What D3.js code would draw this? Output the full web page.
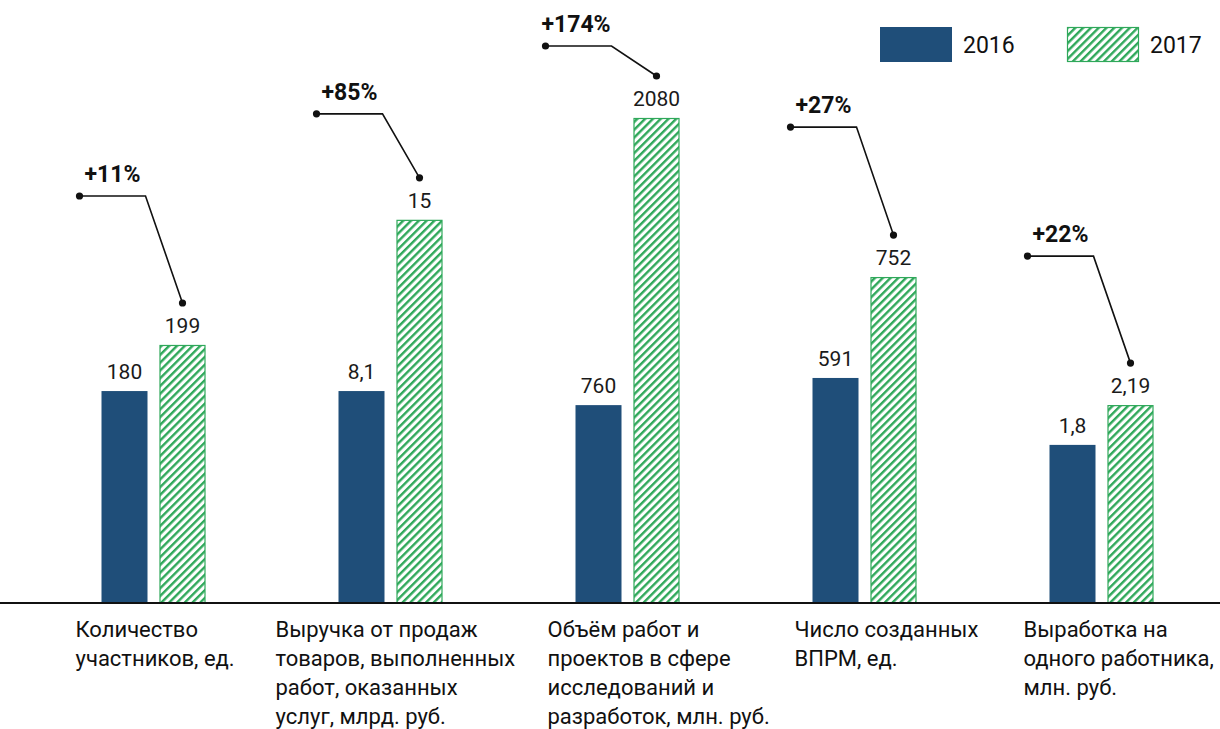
<!DOCTYPE html>
<html lang="ru">
<head>
<meta charset="UTF-8">
<title>Показатели 2016–2017</title>
<script src="https://cdn.jsdelivr.net/npm/d3@7/dist/d3.min.js"></script>
<style>
    body { margin: 0; background: #fff; }
    svg text { font-family: Roboto, "Noto Sans", sans-serif; }
</style>
</head>
<body>
<svg id="mainsvg" width="1220" height="729"></svg>
<script>
    // Data
    const categories = [
        ['Количество', 'участников, ед.'],
        ['Выручка от продаж', 'товаров, выполненных', 'работ, оказанных', 'услуг, млрд. руб.'],
        ['Объём работ и', 'проектов в сфере', 'исследований и', 'разработок, млн. руб.'],
        ['Число созданных', 'ВПРМ, ед.'],
        ['Выработка на', 'одного работника,', 'млн. руб.']
    ];
    const years = ['2016', '2017'];
    const labels2016 = ['180', '8,1', '760', '591', '1,8'];
    const labels2017 = ['199', '15', '2080', '752', '2,19'];
    const growth = ['+11%', '+85%', '+174%', '+27%', '+22%'];
    // bar heights as drawn in the original (index, tallest bar = 100)
    const level2016 = [43.7, 43.7, 40.8, 46.4, 32.6];
    const level2017 = [53.2, 79.0, 100, 67.2, 40.8];

    // Layout
    const svg = d3.select('#mainsvg');
    const width = +svg.attr('width');
    const baseY = 603;
    const navy = '#1f4e79';
    const green = '#2fa85a';
    const labelShift = [-78, -115, -80, -70, -78];   // category label offset from group centre
    const elbowRise = [107, 64, 30, 108, 107];        // annotation elbow above end dot

    const x = d3.scaleBand().domain(d3.range(5)).range([35, 1220]);
    const y = d3.scaleLinear().domain([0, 100]).range([baseY, 118]);
    const barW = 46;
    const centre = i => x(i) + x.bandwidth() / 2;
    const x16 = i => centre(i) - 52;
    const x17 = i => centre(i) + 6;

    // hatch pattern
    const defs = svg.append('defs');
    const pat = defs.append('pattern')
        .attr('id', 'hatch')
        .attr('patternUnits', 'userSpaceOnUse')
        .attr('width', 5.5).attr('height', 5.5)
        .attr('patternTransform', 'rotate(45)');
    pat.append('rect').attr('width', 5.5).attr('height', 5.5).attr('fill', '#fff');
    pat.append('rect').attr('x', 0).attr('width', 2.4).attr('height', 5.5).attr('fill', green);

    const g = svg.append('g');

    // bars 2016
    g.selectAll('rect.b16').data(level2016).join('rect')
        .attr('class', 'b16')
        .attr('x', (d, i) => x16(i))
        .attr('y', d => y(d))
        .attr('width', barW)
        .attr('height', d => baseY - y(d))
        .attr('fill', navy);

    // bars 2017
    g.selectAll('rect.b17').data(level2017).join('rect')
        .attr('class', 'b17')
        .attr('x', (d, i) => x17(i) + 0.5)
        .attr('y', d => y(d) + 0.5)
        .attr('width', barW - 1)
        .attr('height', d => baseY - y(d) - 0.5)
        .attr('fill', 'url(#hatch)')
        .attr('stroke', green)
        .attr('stroke-width', 1.2);

    // value labels
    g.selectAll('text.v16').data(labels2016).join('text')
        .attr('x', (d, i) => x16(i) + barW / 2)
        .attr('y', (d, i) => y(level2016[i]) - 12)
        .attr('text-anchor', 'middle')
        .attr('font-size', 21)
        .attr('fill', '#1a1a1a')
        .text(d => d);
    g.selectAll('text.v17').data(labels2017).join('text')
        .attr('x', (d, i) => x17(i) + barW / 2)
        .attr('y', (d, i) => y(level2017[i]) - 12)
        .attr('text-anchor', 'middle')
        .attr('font-size', 21)
        .attr('fill', '#1a1a1a')
        .text(d => d);

    // baseline
    g.append('line')
        .attr('x1', 0).attr('x2', width)
        .attr('y1', baseY).attr('y2', baseY)
        .attr('stroke', '#111').attr('stroke-width', 2);

    // category labels
    categories.forEach((lines, i) => {
        const t = g.append('text')
            .attr('font-size', 22)
            .attr('fill', '#111');
        lines.forEach((ln, k) => {
            t.append('tspan')
                .attr('x', centre(i) + labelShift[i])
                .attr('y', 637 + k * 29)
                .text(ln);
        });
    });

    // growth annotations
    growth.forEach((txt, i) => {
        const ex = x17(i) + barW / 2;
        const ey = y(level2017[i]) - 42;
        const ay = ey - elbowRise[i];
        const sx = ex - (i === 2 ? 111 : 103);
        const cx = ex - (i === 2 ? 45 : 37);
        g.append('path')
            .attr('d', `M${sx},${ay}H${cx}L${ex},${ey}`)
            .attr('fill', 'none')
            .attr('stroke', '#111')
            .attr('stroke-width', 1.6);
        g.append('circle').attr('cx', sx).attr('cy', ay).attr('r', 3.6).attr('fill', '#111');
        g.append('circle').attr('cx', ex).attr('cy', ey).attr('r', 3.6).attr('fill', '#111');
        g.append('text')
            .attr('x', sx + (i === 2 ? -4 : 5))
            .attr('y', ay - 14)
            .attr('font-size', 23)
            .attr('font-weight', 'bold')
            .attr('fill', '#111')
            .text(txt);
    });

    // legend
    const legend = svg.append('g').attr('transform', 'translate(880,27)');
    years.forEach((yr, k) => {
        const lx = k * 187;
        legend.append('rect')
            .attr('x', lx + (k ? 0.5 : 0)).attr('y', k ? 0.5 : 0)
            .attr('width', k ? 71 : 72).attr('height', k ? 34 : 35)
            .attr('fill', k ? 'url(#hatch)' : navy)
            .attr('stroke', k ? green : 'none')
            .attr('stroke-width', 1.2);
        legend.append('text')
            .attr('x', lx + 83).attr('y', 26)
            .attr('font-size', 23)
            .attr('fill', '#111')
            .text(yr);
    });
</script>
</body>
</html>
